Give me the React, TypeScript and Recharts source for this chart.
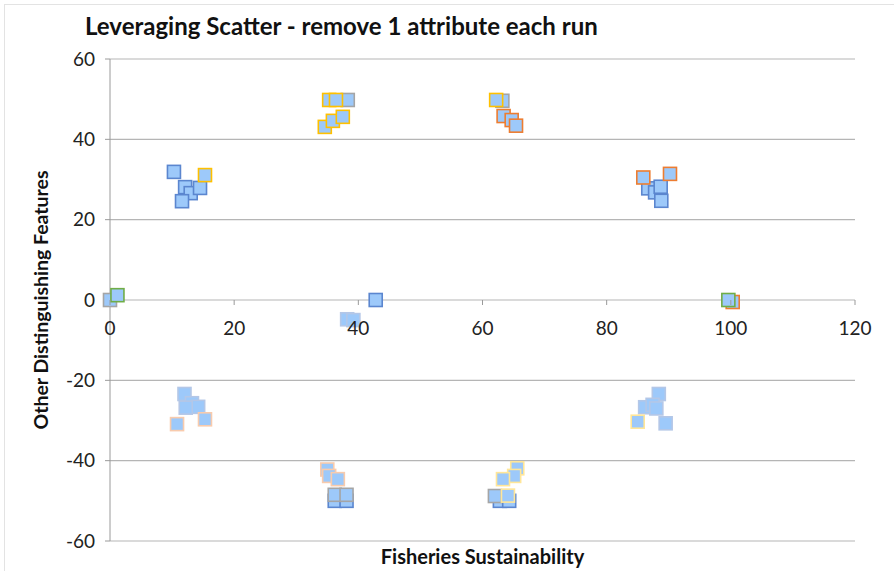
import React from 'react';
import { ScatterChart, Scatter, XAxis, YAxis, CartesianGrid } from 'recharts';

type Pt = { x: number; y: number };

const xTicks = [0, 20, 40, 60, 80, 100, 120];
const yTicks = [-60, -40, -20, 0, 20, 40, 60];

// light-blue squares, border colour differs per run
const runPaleBlue: Pt[] = [
  { x: 12.0, y: -23.4 }, { x: 13.2, y: -25.7 }, { x: 14.2, y: -26.6 }, { x: 12.2, y: -26.8 },
  { x: 88.4, y: -23.4 }, { x: 86.2, y: -26.7 }, { x: 87.4, y: -26.1 }, { x: 88.0, y: -27.0 },
  { x: 89.5, y: -30.7 }, { x: 38.2, y: -4.8 }, { x: 39.2, y: -5.0 },
];
const runBlue: Pt[] = [
  { x: 10.3, y: 31.9 }, { x: 12.1, y: 28.1 }, { x: 13.0, y: 26.6 }, { x: 14.5, y: 27.9 },
  { x: 11.6, y: 24.6 }, { x: 86.7, y: 27.8 }, { x: 87.8, y: 26.8 }, { x: 88.7, y: 28.2 },
  { x: 88.8, y: 24.7 }, { x: 36.2, y: -50 }, { x: 38.1, y: -50 }, { x: 62.8, y: -50 },
  { x: 64.3, y: -50 }, { x: 42.8, y: 0 },
];
const runOrange: Pt[] = [
  { x: 63.4, y: 45.8 }, { x: 64.7, y: 44.8 }, { x: 65.4, y: 43.4 },
  { x: 85.9, y: 30.5 }, { x: 90.2, y: 31.4 }, { x: 100.3, y: -0.5 },
];
const runPaleOrange: Pt[] = [
  { x: 10.8, y: -30.9 }, { x: 15.3, y: -29.7 }, { x: 35.0, y: -42.2 },
  { x: 35.3, y: -43.8 }, { x: 36.7, y: -44.6 },
];
const runGold: Pt[] = [
  { x: 15.3, y: 31.1 }, { x: 34.6, y: 43.1 }, { x: 35.9, y: 44.6 }, { x: 37.5, y: 45.6 },
  { x: 35.3, y: 49.8 }, { x: 36.4, y: 49.8 }, { x: 62.2, y: 49.8 },
];
const runPaleGold: Pt[] = [
  { x: 65.6, y: -41.9 }, { x: 65.1, y: -43.8 }, { x: 63.3, y: -44.6 },
  { x: 64.1, y: -48.7 }, { x: 85.0, y: -30.3 },
];
const runGray: Pt[] = [
  { x: 38.3, y: 49.8 }, { x: 63.2, y: 49.6 }, { x: 36.2, y: -48.5 },
  { x: 38.1, y: -48.5 }, { x: 62.0, y: -48.8 }, { x: 0, y: 0 },
];
const runGreen: Pt[] = [
  { x: 1.2, y: 1.2 }, { x: 99.6, y: 0 },
];

const runs = [
  { name: 'Run 1', data: runBlue, stroke: '#5B86CF' },
  { name: 'Run 2', data: runOrange, stroke: '#ED7D31' },
  { name: 'Run 3', data: runGray, stroke: '#A5A5A5' },
  { name: 'Run 4', data: runGold, stroke: '#FFC000' },
  { name: 'Run 5', data: runGreen, stroke: '#70AD47' },
  { name: 'Run 6', data: runPaleBlue, stroke: '#B4C7E7' },
  { name: 'Run 7', data: runPaleOrange, stroke: '#F8CBAD' },
  { name: 'Run 8', data: runPaleGold, stroke: '#FFE699' },
];

const W = 894;
const H = 571;
const MARGIN = { top: 59, right: 39, left: 0, bottom: 0 };
const X_AXIS_H = 30;
const PLOT_H = H - MARGIN.top - MARGIN.bottom - X_AXIS_H;
const FONT = 'Lato, "Open Sans", sans-serif';

const square = (stroke: string) => (props: any) => {
  const { cx, cy } = props;
  return (
    <rect x={cx - 6.5} y={cy - 6.5} width={13} height={13}
      fill="#9DC9FA" stroke={stroke} strokeWidth={1.6} />
  );
};

// x axis crosses at y = 0, so ticks are drawn on the zero line
const XTick = (props: any) => {
  const { x, y, payload } = props;
  const zeroY = y - PLOT_H / 2;
  return (
    <g>
      <line x1={x} x2={x} y1={zeroY} y2={zeroY + 5} stroke="#9a9a9a" />
      <text x={x} y={zeroY + 35} textAnchor="middle" fontSize={19} fill="#222" fontFamily={FONT}>
        {payload.value}
      </text>
    </g>
  );
};

export default function App() {
  return (
    <div style={{ position: 'absolute', left: 0, top: 0, width: W, height: H, background: '#fff', overflow: 'hidden' }}>
      <div style={{ position: 'absolute', left: 4, top: 4, width: W, height: H, border: '1px solid #e3e3e3' }} />
      <div style={{ position: 'absolute', left: 85, top: 11, fontFamily: FONT, fontWeight: 700, fontSize: 24, color: '#111', whiteSpace: 'nowrap' }}>
        Leveraging Scatter - remove 1 attribute each run
      </div>
      <div style={{ position: 'absolute', left: 0, top: 0 }}>
        <ScatterChart width={W} height={H} margin={MARGIN}>
          <CartesianGrid vertical={false} stroke="#b5b5b5" strokeWidth={1.2} />
          <XAxis type="number" dataKey="x" domain={[0, 120]} ticks={xTicks} height={X_AXIS_H}
            axisLine={false} tickLine={false} tickSize={0} tickMargin={0} tick={<XTick />}
            label={{
              content: (p: any) => {
                const vb = p.viewBox;
                return (
                  <text x={vb.x + vb.width / 2} y={vb.y + 23} textAnchor="middle" fontSize={20}
                    fontWeight={700} fill="#111" fontFamily={FONT}>Fisheries Sustainability</text>
                );
              },
            }} />
          <YAxis type="number" dataKey="y" domain={[-60, 60]} ticks={yTicks} width={110}
            axisLine={{ stroke: '#9a9a9a' }} tickLine={{ stroke: '#9a9a9a' }} tickSize={5} tickMargin={10}
            tick={{ fontSize: 19, fill: '#222', fontFamily: FONT }}
            label={{
              content: (p: any) => {
                const vb = p.viewBox;
                const cx = 48;
                const cy = vb.y + vb.height / 2;
                return (
                  <text x={cx} y={cy} transform={`rotate(-90 ${cx} ${cy})`} textAnchor="middle"
                    fontSize={19.5} fontWeight={700} fill="#111" fontFamily={FONT}>Other Distinguishing Features</text>
                );
              },
            }} />
          {runs.map((r) => (
            <Scatter key={r.name} name={r.name} data={r.data} shape={square(r.stroke)} isAnimationActive={false} />
          ))}
        </ScatterChart>
      </div>
    </div>
  );
}
